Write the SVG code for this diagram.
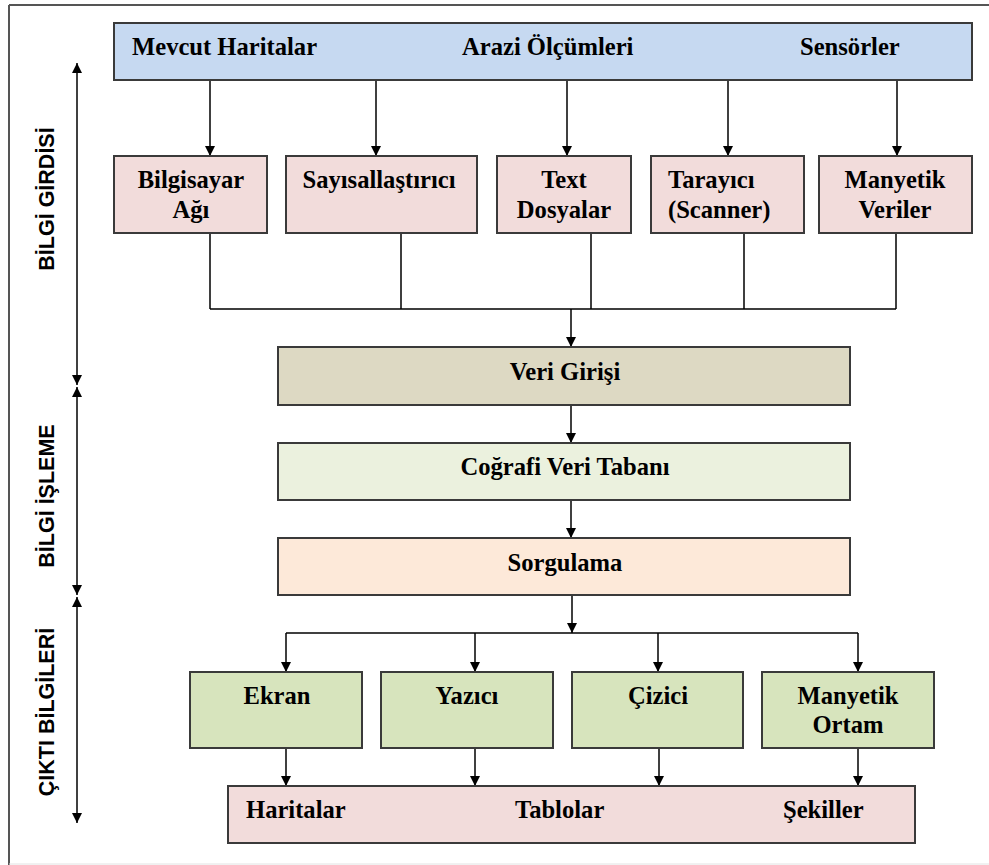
<svg xmlns="http://www.w3.org/2000/svg" width="989" height="865" viewBox="0 0 989 865">
  <style>
    .box { stroke: #3a3a3a; stroke-width: 2; }
    .src { fill: #c6d9f1; }
    .dev { fill: #f2dcdb; }
    .entry { fill: #ddd9c3; }
    .db { fill: #ebf1de; }
    .query { fill: #fde9d9; }
    .out { fill: #d7e4bd; }
    .prod { fill: #f2dcdb; }
    .t { font-family: "Liberation Serif", "Times New Roman", serif; font-weight: bold; font-size: 24.6px; fill: #000; }
    .c { text-anchor: middle; }
    .side { font-family: "Liberation Sans", Arial, sans-serif; font-weight: bold; font-size: 21.5px; fill: #000; text-anchor: middle; }
    .wire { stroke: #000; stroke-width: 1.5; fill: none; }
    .arr { marker-end: url(#head); }
    .stage { stroke: #000; stroke-width: 1.5; fill: none; marker-start: url(#headStart); marker-end: url(#head); }
  </style>
  <defs>
    <marker id="head" viewBox="0 0 10 10" refX="10" refY="5" markerWidth="10" markerHeight="10" markerUnits="userSpaceOnUse" orient="auto">
      <path d="M0,0 L10,5 L0,10 Z" fill="#000"/>
    </marker>
    <marker id="headStart" viewBox="0 0 10 10" refX="0" refY="5" markerWidth="10" markerHeight="10" markerUnits="userSpaceOnUse" orient="auto">
      <path d="M10,0 L0,5 L10,10 Z" fill="#000"/>
    </marker>
  </defs>

  <rect width="989" height="865" fill="#fff"/>

  <!-- page frame -->
  <g id="frame">
    <line x1="9" y1="5" x2="989" y2="5" stroke="#555" stroke-width="2"/>
    <line x1="9" y1="5" x2="9" y2="865" stroke="#555" stroke-width="2"/>
    <line x1="9" y1="864" x2="989" y2="864" stroke="#e2e2e2" stroke-width="1"/>
  </g>

  <!-- stage labels with their extent arrows -->
  <g id="stage-input">
    <line class="stage" x1="77" y1="63" x2="77" y2="385"/>
    <text class="side" transform="translate(54,199) rotate(-90)">BİLGİ GİRDİSİ</text>
  </g>
  <g id="stage-processing">
    <line class="stage" x1="77" y1="387" x2="77" y2="595"/>
    <text class="side" transform="translate(54,496) rotate(-90)">BİLGİ İŞLEME</text>
  </g>
  <g id="stage-output">
    <line class="stage" x1="77" y1="597" x2="77" y2="823"/>
    <text class="side" transform="translate(54,712) rotate(-90)">ÇIKTI BİLGİLERİ</text>
  </g>

  <!-- connectors -->
  <g id="connectors">
    <line class="wire arr" x1="210" y1="80" x2="210" y2="156"/>
    <line class="wire arr" x1="376" y1="80" x2="376" y2="156"/>
    <line class="wire arr" x1="567" y1="80" x2="567" y2="156"/>
    <line class="wire arr" x1="728" y1="80" x2="728" y2="156"/>
    <line class="wire arr" x1="897" y1="80" x2="897" y2="156"/>

    <path class="wire" d="M210,233 V309 M401,233 V309 M591,233 V309 M744,233 V309 M896,233 V309 M210,309 H896"/>
    <line class="wire arr" x1="571" y1="309" x2="571" y2="347"/>
    <line class="wire arr" x1="571" y1="405" x2="571" y2="443"/>
    <line class="wire arr" x1="571" y1="500" x2="571" y2="538"/>
    <line class="wire arr" x1="572" y1="595" x2="572" y2="633"/>

    <path class="wire" d="M286,633 H858"/>
    <line class="wire arr" x1="286" y1="633" x2="286" y2="672"/>
    <line class="wire arr" x1="475" y1="633" x2="475" y2="672"/>
    <line class="wire arr" x1="658" y1="633" x2="658" y2="672"/>
    <line class="wire arr" x1="858" y1="633" x2="858" y2="672"/>

    <line class="wire arr" x1="286" y1="748" x2="286" y2="786"/>
    <line class="wire arr" x1="475" y1="748" x2="475" y2="786"/>
    <line class="wire arr" x1="659" y1="748" x2="659" y2="786"/>
    <line class="wire arr" x1="858" y1="748" x2="858" y2="786"/>
  </g>

  <!-- sources -->
  <g id="sources">
    <rect class="box src" x="114" y="23" width="858" height="57"/>
    <text class="t" x="132" y="55">Mevcut Haritalar</text>
    <text class="t" x="462" y="55">Arazi Ölçümleri</text>
    <text class="t" x="800" y="55">Sensörler</text>
  </g>

  <!-- input devices -->
  <g id="bilgisayar-agi">
    <rect class="box dev" x="114" y="156" width="153" height="77"/>
    <text class="t c" x="191" y="188">Bilgisayar</text>
    <text class="t c" x="191" y="218">Ağı</text>
  </g>
  <g id="sayisallastirici">
    <rect class="box dev" x="286" y="156" width="191" height="77"/>
    <text class="t c" x="379" y="188">Sayısallaştırıcı</text>
  </g>
  <g id="text-dosyalar">
    <rect class="box dev" x="497" y="156" width="134" height="77"/>
    <text class="t c" x="564" y="188">Text</text>
    <text class="t c" x="564" y="218">Dosyalar</text>
  </g>
  <g id="tarayici">
    <rect class="box dev" x="651" y="156" width="153" height="77"/>
    <text class="t" x="668" y="188">Tarayıcı</text>
    <text class="t" x="668" y="218">(Scanner)</text>
  </g>
  <g id="manyetik-veriler">
    <rect class="box dev" x="819" y="156" width="153" height="77"/>
    <text class="t c" x="895" y="188">Manyetik</text>
    <text class="t c" x="895" y="218">Veriler</text>
  </g>

  <!-- processing -->
  <g id="veri-girisi">
    <rect class="box entry" x="278" y="347" width="572" height="58"/>
    <text class="t c" x="565" y="380">Veri Girişi</text>
  </g>
  <g id="cografi-veri-tabani">
    <rect class="box db" x="278" y="443" width="572" height="57"/>
    <text class="t c" x="565" y="475">Coğrafi Veri Tabanı</text>
  </g>
  <g id="sorgulama">
    <rect class="box query" x="278" y="538" width="572" height="57"/>
    <text class="t c" x="565" y="571">Sorgulama</text>
  </g>

  <!-- output devices -->
  <g id="ekran">
    <rect class="box out" x="190" y="672" width="172" height="76"/>
    <text class="t c" x="277" y="704">Ekran</text>
  </g>
  <g id="yazici">
    <rect class="box out" x="381" y="672" width="172" height="76"/>
    <text class="t c" x="467" y="704">Yazıcı</text>
  </g>
  <g id="cizici">
    <rect class="box out" x="572" y="672" width="171" height="76"/>
    <text class="t c" x="658" y="704">Çizici</text>
  </g>
  <g id="manyetik-ortam">
    <rect class="box out" x="762" y="672" width="172" height="76"/>
    <text class="t c" x="848" y="704">Manyetik</text>
    <text class="t c" x="848" y="733">Ortam</text>
  </g>

  <!-- products -->
  <g id="products">
    <rect class="box prod" x="228" y="786" width="687" height="57"/>
    <text class="t" x="246" y="818">Haritalar</text>
    <text class="t" x="515" y="818">Tablolar</text>
    <text class="t" x="783" y="818">Şekiller</text>
  </g>
</svg>
